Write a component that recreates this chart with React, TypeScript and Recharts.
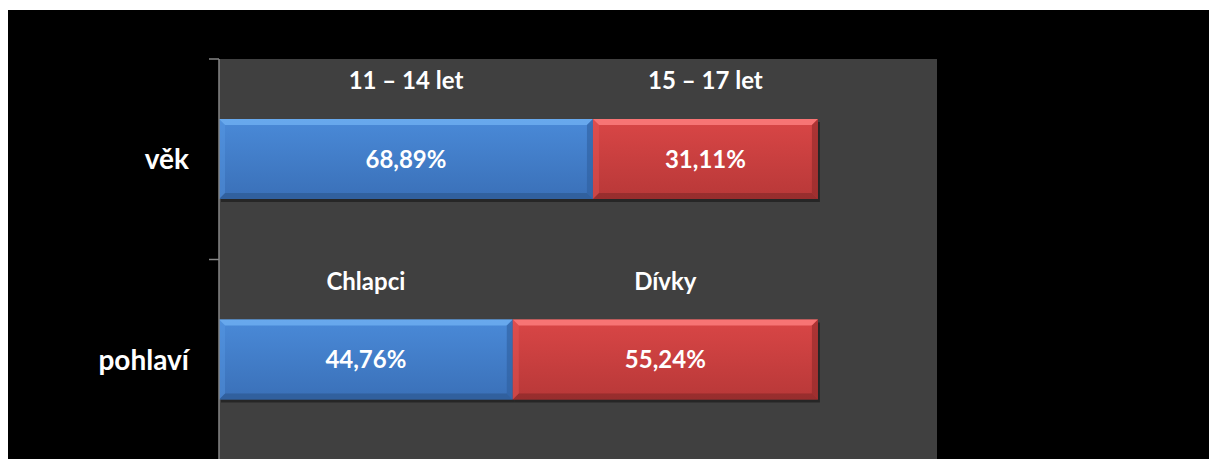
import React from 'react';
import { BarChart, Bar, XAxis, YAxis, CartesianGrid, LabelList } from 'recharts';

// kategorie na ose Y
const categories = ['věk', 'pohlaví'];
// délky segmentů (v % šířky)
const firstShare = [62.5, 49.1];
const secondShare = [37.6, 51.0];
// popisky uvnitř segmentů
const firstLabels = ['68,89%', '44,76%'];
const secondLabels = ['31,11%', '55,24%'];
// názvy skupin nad segmenty
const firstNames = ['11 – 14 let', 'Chlapci'];
const secondNames = ['15 – 17 let', 'Dívky'];

const data = categories.map((name, i) => ({
  name,
  a: firstShare[i],
  b: secondShare[i],
  aLabel: firstLabels[i],
  bLabel: secondLabels[i],
  aName: firstNames[i],
  bName: secondNames[i],
}));

const FONT = 'Lato, "Open Sans", sans-serif';

/** Segment s efektem zkosení (bevel) */
function BevelBar(props: any) {
  const { x, y, width, height, tone } = props;
  if (!width || width <= 0) return null;
  const b = 6;
  const c = tone === 'blue'
    ? { top: '#6fb0f2', left: '#5a9be6', right: '#2f5f9e', bottom: '#2d5a93', grad: 'url(#gBlue)' }
    : { top: '#ff8080', left: '#e85a5a', right: '#8f2a2a', bottom: '#8a2929', grad: 'url(#gRed)' };
  return (
    <g>
      <rect x={x + 2} y={y + 3} width={width} height={height} fill="#000" opacity={0.4} />
      <rect x={x} y={y} width={width} height={height} fill={c.grad} />
      <polygon points={`${x},${y} ${x + width},${y} ${x + width - b},${y + b} ${x + b},${y + b}`} fill={c.top} opacity={0.8} />
      <polygon points={`${x},${y + height} ${x + width},${y + height} ${x + width - b},${y + height - b} ${x + b},${y + height - b}`} fill={c.bottom} opacity={0.7} />
      <polygon points={`${x},${y} ${x + b},${y + b} ${x + b},${y + height - b} ${x},${y + height}`} fill={c.left} opacity={0.4} />
      <polygon points={`${x + width},${y} ${x + width - b},${y + b} ${x + width - b},${y + height - b} ${x + width},${y + height}`} fill={c.right} opacity={0.6} />
    </g>
  );
}

/** Popisek kategorie + značky na hranicích pásem */
function CategoryTick(props: any) {
  const { x, y, payload, index, visibleTicksCount } = props;
  const axisX = x + 30;
  const off = payload.offset ?? 0;
  const isLast = index === visibleTicksCount - 1;
  return (
    <g>
      <line x1={axisX - 10} x2={axisX} y1={y - off} y2={y - off} stroke="#868686" strokeWidth={1.5} />
      {isLast && <line x1={axisX - 10} x2={axisX} y1={y + off} y2={y + off} stroke="#868686" strokeWidth={1.5} />}
      <text x={x} y={y + 10} textAnchor="end" fill="#fff" fontSize={28} fontWeight={700} fontFamily={FONT}>
        {payload.value}
      </text>
    </g>
  );
}

export default function App(): React.JSX.Element {
  return (
    <div style={{ position: 'fixed', left: 8, top: 10, width: 1201, height: 450, background: '#000' }}>
      <BarChart
        width={1201}
        height={450}
        data={data}
        layout="vertical"
        margin={{ top: 49, right: 272, bottom: 0, left: 0 }}
        barSize={80}
      >
        <defs>
          <linearGradient id="gBlue" x1="0" y1="0" x2="0" y2="1">
            <stop offset="0%" stopColor="#4a8ad8" />
            <stop offset="100%" stopColor="#3a70b8" />
          </linearGradient>
          <linearGradient id="gRed" x1="0" y1="0" x2="0" y2="1">
            <stop offset="0%" stopColor="#d94646" />
            <stop offset="100%" stopColor="#b83838" />
          </linearGradient>
        </defs>
        <CartesianGrid fill="#404040" horizontal={false} vertical={false} />
        <XAxis type="number" domain={[0, 120]} hide />
        <YAxis
          type="category"
          dataKey="name"
          width={211}
          axisLine={{ stroke: '#868686', strokeWidth: 1.5 }}
          tickLine={false}
          tickSize={10}
          tickMargin={20}
          tick={<CategoryTick />}
        />
        <Bar dataKey="a" stackId="s" isAnimationActive={false} shape={(p: any) => <BevelBar {...p} tone="blue" />}>
          <LabelList dataKey="aLabel" position="center" fill="#fff" fontSize={24} fontWeight={700} fontFamily={FONT} />
          <LabelList dataKey="aName" position="top" offset={30} fill="#fff" fontSize={24} fontWeight={700} fontFamily={FONT} />
        </Bar>
        <Bar dataKey="b" stackId="s" isAnimationActive={false} shape={(p: any) => <BevelBar {...p} tone="red" />}>
          <LabelList dataKey="bLabel" position="center" fill="#fff" fontSize={24} fontWeight={700} fontFamily={FONT} />
          <LabelList dataKey="bName" position="top" offset={30} fill="#fff" fontSize={24} fontWeight={700} fontFamily={FONT} />
        </Bar>
      </BarChart>
    </div>
  );
}
